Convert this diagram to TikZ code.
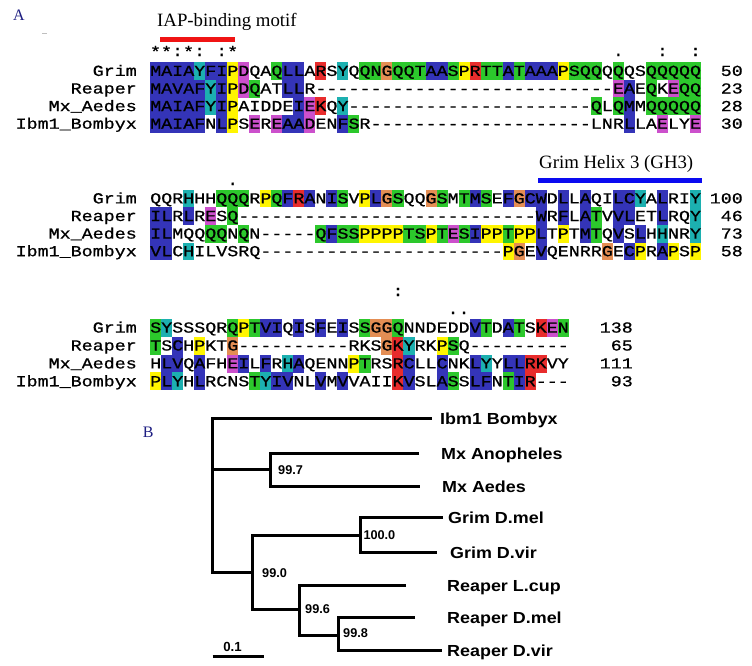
\documentclass[tikz,border=0pt]{standalone}
\usepackage{fontspec}
\newfontfamily\seqfont[FakeStretch=1.2,FakeBold=0.8]{Liberation Mono}
\newfontfamily\treefont[FakeStretch=1.12]{Liberation Sans}
\newfontfamily\bootfont{Liberation Sans}
\newfontfamily\serfont{Liberation Serif}
\definecolor{resb}{RGB}{52,52,184}
\definecolor{resc}{RGB}{28,176,176}
\definecolor{resg}{RGB}{44,200,44}
\definecolor{resy}{RGB}{255,245,0}
\definecolor{resm}{RGB}{204,80,204}
\definecolor{resr}{RGB}{232,44,44}
\definecolor{reso}{RGB}{228,142,84}
\definecolor{navy}{RGB}{30,30,130}
\definecolor{iapred}{RGB}{240,20,20}
\definecolor{ghblue}{RGB}{10,10,240}
\tikzset{
  seqtxt/.style={font={\seqfont\fontsize{15.3}{17}\selectfont}, inner sep=0pt},
  leaf/.style={font={\treefont\bfseries\fontsize{16}{18}\selectfont}, inner sep=0pt, anchor=base west},
  boot/.style={font={\bootfont\bfseries\fontsize{12.7}{14}\selectfont}, inner sep=0pt, anchor=west},
  scaletxt/.style={font={\bootfont\bfseries\fontsize{13.2}{15}\selectfont}, inner sep=0pt, anchor=base},
  motif/.style={font={\serfont\fontsize{18.8}{21}\selectfont}, inner sep=0pt, anchor=base west},
  panel/.style={font={\serfont\fontsize{16}{18}\selectfont}, text=navy, inner sep=0pt, anchor=base west},
  branch/.style={line width=3pt, line join=miter},
}
\makeatletter
\newcount\rcol
\def\rowy{0}
\def\rowh{17.6}
\newcommand\crow[2]{\global\rcol=0 \def\rowy{#1}\crow@parse#2\relax}
\def\crow@parse#1{%
  \ifx#1\relax\else
    \if#1.\else
      \fill[res#1] ({150+\the\rcol*11.02},{\rowy-\rowh/2}) rectangle ++(11.12,\rowh+0.1);
    \fi
    \global\advance\rcol by 1
    \expandafter\crow@parse
  \fi}
\makeatother
\newcount\gapc
\newcommand\gp[1]{\gapc=#1\relax\loop\ifnum\gapc>0 -\kern0pt\advance\gapc by -1 \repeat}
\newcommand\aln[7]{%
  \crow{#2}{#3}%
  \node[seqtxt,anchor=base east] (#1-name) at (137,{#2+4.9}) {#4};
  \node[seqtxt,anchor=base west] (#1-seq) at (150,{#2+4.9}) {#5};
  \node[seqtxt,anchor=base east] (#1-num) at (#7,{#2+4.9}) {#6};
}
\newcommand\cons[4]{\node[seqtxt,anchor=base] (#1) at ({150+(#2-0.5)*11.02},#3) {#4};}
\begin{document}
\begin{tikzpicture}[x=1pt,y=-1pt]
\useasboundingbox (0,0) rectangle (752,665);
\fill[white] (0,0) rectangle (752,665);
% panel labels
\node[panel] (panelA) at (13,20) {A};
\node[panel] (panelB) at (142.7,437.3) {B};
\draw[gray!50, line width=1pt] (42,33) -- (47,33);
% motif annotations
\node[motif] (iap) at (157,26.7) {IAP-binding motif};
\fill[iapred] (160,36.5) rectangle (235,42);
\node[motif] (gh3) at (539,168.5) {Grim Helix 3 (GH3)};
\fill[ghblue] (537.7,177.7) rectangle (702,183.3);
% ---------- block 1 ----------
\def\rowh{17.6}
\aln{a1}{71}{bbbbcbbym. .gbb.r.c.g gogggbbgyr ggbgbbbygg g.g..ggggg}{Grim}{MAIAYFIPDQAQLLARSYQQNGQQTAASPRTTATAAAPSQQQQQSQQQQQ}{50}{743}
\aln{a2}{88.6}{bbbbbcbymg ..bb...... .......... .......... ..mb.g.mgg}{Reaper}{MAVAFYIPDQATLLR\gp{27}EAEQKEQQ}{23}{743}
\aln{a3}{106.2}{bbbbbcby.. ...bmr.c.. .......... .......... g.gb.ggggg}{Mx\_Aedes}{MAIAFYIPAIDDEIEKQY\gp{22}QLQMMQQQQQ}{28}{743}
\aln{a4}{123.8}{bbbbb.by.m .mbbm..bg. .......... .......... ...b..m..m}{Ibm1\_Bombyx}{MAIAFNLPSEREAADENFSR\gp{20}LNRLLAELYE}{30}{743}
\cons{k1}{1}{57}{*}\cons{k2}{2}{57}{*}\cons{k3}{3}{56}{:}\cons{k4}{4}{57}{*}
\cons{k5}{5}{56}{:}\cons{k7}{7}{56}{:}\cons{k8}{8}{57}{*}
\cons{k43}{43}{56}{.}\cons{k47}{47}{56}{:}\cons{k50}{50}{56}{:}
% ---------- block 2 ----------
\aln{b1}{198.5}{...c..ggg. ygbrb.bg.y bog..og.gb g.bobb.b.b ..bbc.b..c}{Grim}{QQRHHHQQQRPQFRANISVPLGSQQGSMTMSEFGCWDLLAQILCYALRIY}{100}{743}
\aln{b2}{216.1}{bb.b.m.g.. .......... .......... .....b.b.b g.bb..b..c}{Reaper}{ILRLRESQ\gp{27}WRFLATVVLETLRQY}{46}{743}
\aln{b3}{233.7}{bb...gg.g. .....gbggy yyyggygmgb yygyyb.y.b g.b.b.c..c}{Mx\_Aedes}{ILMQQQQNQN\gp{5}QFSSPPPPTSPTESIPPTPPLTPTMTQVSLHHNRY}{73}{743}
\aln{b4}{251.3}{bb.c...... .......... .......... ..yo.b.... .o.by.by.y}{Ibm1\_Bombyx}{VLCHILVSRQ\gp{22}PGEVQENRRGECPRAPSP}{58}{743}
\cons{m8}{8}{185}{.}
% ---------- block 3 ----------
\def\rowh{17.9}
\aln{c1}{327.7}{gc.....gyg bb.b.b.b.g oog......b g.bg.rmg}{Grim}{SYSSSQRQPTVIQISFEISSGGQNNDEDDVTDATSKEN}{138}{633}
\aln{c2}{345.6}{g.b.y..o.. .......... .orc..yg.. ........}{Reaper}{TSCHPKTG\gp{10}RKSGKYRKPSQ\gp{9}}{65}{633}
\aln{c3}{363.5}{.bb.b..mb. b.cb....yg ..rb..b..b c.bbrr..}{Mx\_Aedes}{HLVQAFHEILFRHAQENNPTRSRCLLCNKLYYLLRKVY}{111}{633}
\aln{c4}{381.4}{ybc.b....g cbb..b.b.. ..rb..bg.b b.gbr...}{Ibm1\_Bombyx}{PLYHLRCNSTYIVNLVMVVAIIKVSLASSLFNTIR\gp{3}}{93}{633}
\cons{n23}{23}{296}{:}\cons{n28}{28}{314}{.}\cons{n29}{29}{314}{.}
% ---------- tree ----------
\coordinate (rT) at (212.7,418);
\coordinate (rM) at (212.7,469.5);
\coordinate (rB) at (212.7,572);
\coordinate (mxT) at (270.7,453);
\coordinate (mxM) at (270.7,469.5);
\coordinate (mxB) at (270.7,486);
\coordinate (n9T) at (252.7,535);
\coordinate (n9M) at (252.7,572);
\coordinate (n9B) at (252.7,609);
\coordinate (gT) at (360,517);
\coordinate (gM) at (360,535);
\coordinate (gB) at (360,552);
\coordinate (pT) at (299.3,585);
\coordinate (pM) at (299.3,609);
\coordinate (pB) at (299.3,635);
\coordinate (qT) at (338.3,617);
\coordinate (qM) at (338.3,635);
\coordinate (qB) at (338.3,650);
\coordinate (tIbm) at (431.7,418);
\coordinate (tAno) at (419,453);
\coordinate (tAed) at (420,486);
\coordinate (tGme) at (443,517);
\coordinate (tGvi) at (437,552);
\coordinate (tLcu) at (406,585);
\coordinate (tRme) at (415,617);
\coordinate (tRvi) at (441.7,650);
\draw[branch] (tIbm) -- (rT) -- (rB) -- (n9M);
\draw[branch] (rM) -- (mxM);
\draw[branch] (tAno) -- (mxT) -- (mxB) -- (tAed);
\draw[branch] (gM) -- (n9T) -- (n9B) -- (pM);
\draw[branch] (tGme) -- (gT) -- (gB) -- (tGvi);
\draw[branch] (tLcu) -- (pT) -- (pB) -- (qM);
\draw[branch] (tRme) -- (qT) -- (qB) -- (tRvi);
\node[leaf] (lIbm) at (440,424) {Ibm1 Bombyx};
\node[leaf] (lAno) at (441,459) {Mx Anopheles};
\node[leaf] (lAed) at (442,492) {Mx Aedes};
\node[leaf] (lGme) at (448,523) {Grim D.mel};
\node[leaf] (lGvi) at (450,558) {Grim D.vir};
\node[leaf] (lLcu) at (447,591) {Reaper L.cup};
\node[leaf] (lRme) at (447,623) {Reaper D.mel};
\node[leaf] (lRvi) at (447,656) {Reaper D.vir};
\node[boot] (b997) at (278,470) {99.7};
\node[boot] (b100) at (363.3,535) {100.0};
\node[boot] (b990) at (262,573) {99.0};
\node[boot] (b996) at (305,609) {99.6};
\node[boot] (b998) at (343,633) {99.8};
\coordinate (s1) at (212.7,656);
\coordinate (s2) at (264,656);
\draw[branch] (s1) -- (s2);
\node[scaletxt] (scl) at (232.5,651.8) {0.1};
\end{tikzpicture}
\end{document}
